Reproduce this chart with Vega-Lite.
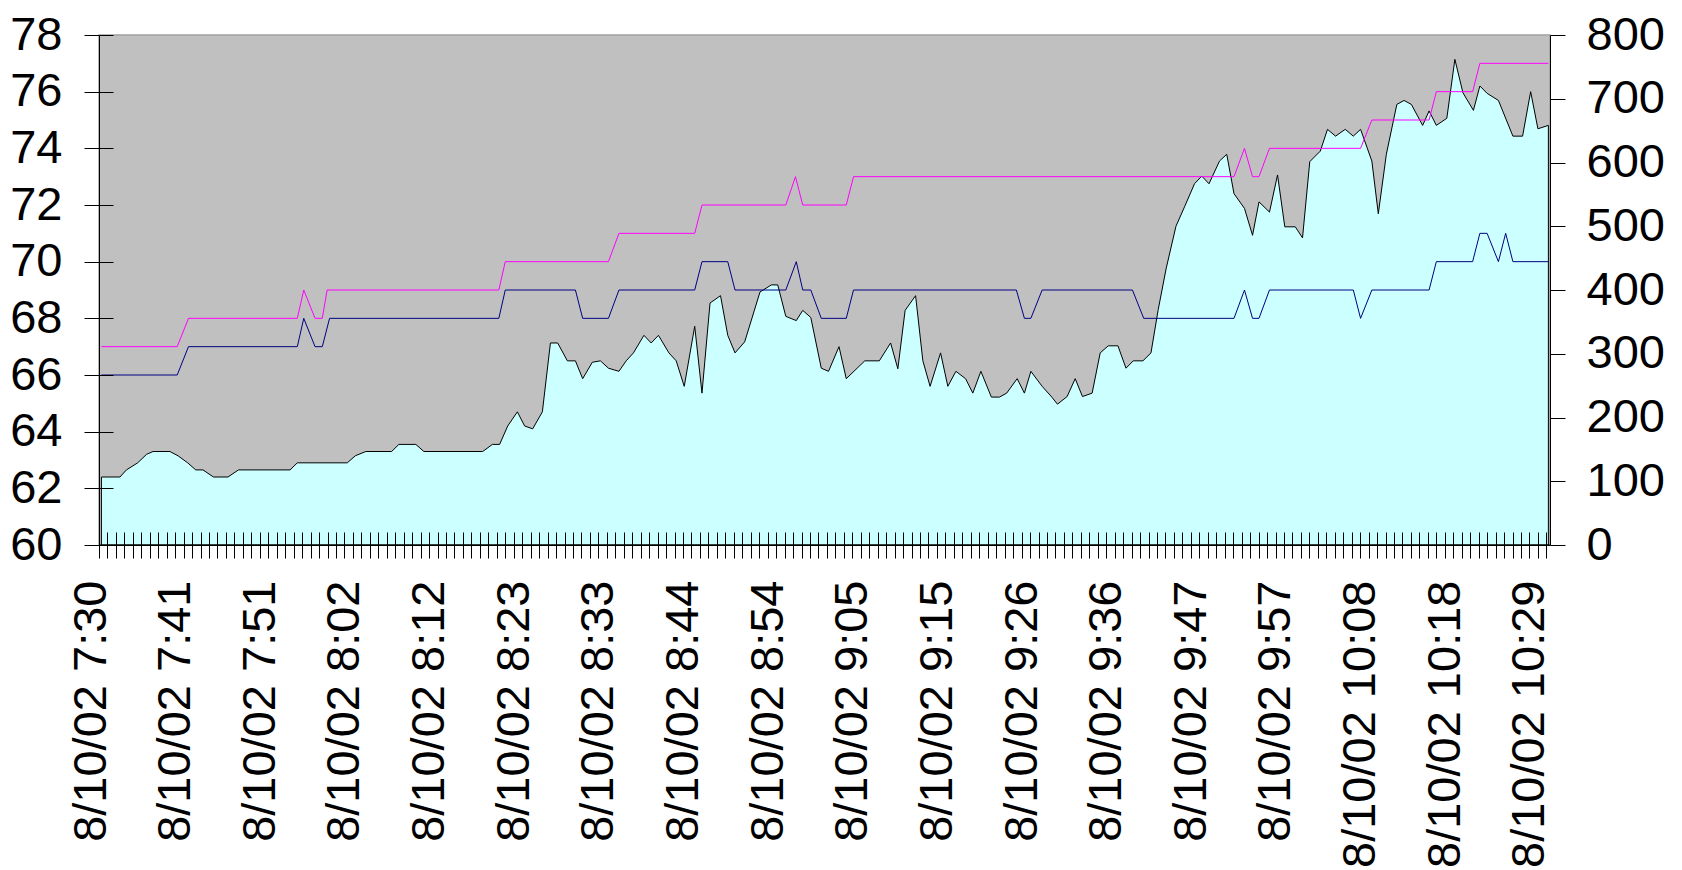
{
  "$schema": "https://vega.github.io/schema/vega-lite/v6.json",
  "width": 1451,
  "height": 510,
  "autosize": "none",
  "padding": {"left": 99, "top": 35, "right": 132, "bottom": 325},
  "background": "white",
  "config": {
    "view": {"fill": "#C0C0C0", "stroke": "#A0A0A0", "strokeWidth": 1.5},
    "font": "Liberation Sans",
    "axis": {"labelFont": "Liberation Sans", "labelColor": "black", "tickColor": "black", "domainColor": "black", "grid": false, "title": null, "labelLimit": 0}
  },
  "datasets": {
    "temp": [
      {"min": 0.3, "value": 62.4}, {"min": 2.6, "value": 62.4}, {"min": 3.4, "value": 62.65}, {"min": 4.8, "value": 62.9},
      {"min": 5.9, "value": 63.2}, {"min": 6.7, "value": 63.3}, {"min": 8.8, "value": 63.3}, {"min": 9.8, "value": 63.15},
      {"min": 11.0, "value": 62.9}, {"min": 12.0, "value": 62.65}, {"min": 12.9, "value": 62.65}, {"min": 14.2, "value": 62.4},
      {"min": 16.0, "value": 62.4}, {"min": 17.3, "value": 62.65}, {"min": 23.7, "value": 62.65}, {"min": 24.6, "value": 62.9},
      {"min": 30.8, "value": 62.9}, {"min": 31.8, "value": 63.15}, {"min": 33.1, "value": 63.3}, {"min": 36.3, "value": 63.3},
      {"min": 37.2, "value": 63.55}, {"min": 39.3, "value": 63.55}, {"min": 40.3, "value": 63.3}, {"min": 47.6, "value": 63.3},
      {"min": 48.8, "value": 63.55}, {"min": 49.7, "value": 63.55}, {"min": 50.7, "value": 64.2}, {"min": 51.9, "value": 64.7},
      {"min": 52.8, "value": 64.2}, {"min": 53.8, "value": 64.1}, {"min": 55.0, "value": 64.7}, {"min": 56.0, "value": 67.13},
      {"min": 56.9, "value": 67.13}, {"min": 58.1, "value": 66.5}, {"min": 59.1, "value": 66.5}, {"min": 60.0, "value": 65.87},
      {"min": 61.2, "value": 66.45}, {"min": 62.2, "value": 66.5}, {"min": 63.2, "value": 66.24}, {"min": 64.5, "value": 66.13},
      {"min": 65.4, "value": 66.5}, {"min": 66.3, "value": 66.78}, {"min": 67.6, "value": 67.4}, {"min": 68.5, "value": 67.13},
      {"min": 69.4, "value": 67.4}, {"min": 70.7, "value": 66.78}, {"min": 71.6, "value": 66.5}, {"min": 72.6, "value": 65.6},
      {"min": 73.9, "value": 67.72}, {"min": 74.8, "value": 65.36}, {"min": 75.8, "value": 68.54}, {"min": 77.1, "value": 68.8},
      {"min": 78.0, "value": 67.4}, {"min": 78.9, "value": 66.78}, {"min": 80.1, "value": 67.17}, {"min": 82.0, "value": 68.93},
      {"min": 83.4, "value": 69.18}, {"min": 84.2, "value": 69.18}, {"min": 85.2, "value": 68.07}, {"min": 86.5, "value": 67.92},
      {"min": 87.3, "value": 68.28}, {"min": 88.3, "value": 68.03}, {"min": 89.6, "value": 66.24}, {"min": 90.5, "value": 66.13},
      {"min": 91.8, "value": 67.0}, {"min": 92.7, "value": 65.87}, {"min": 95.0, "value": 66.5}, {"min": 96.8, "value": 66.5},
      {"min": 98.2, "value": 67.13}, {"min": 99.1, "value": 66.22}, {"min": 100.0, "value": 68.28}, {"min": 101.3, "value": 68.8},
      {"min": 102.2, "value": 66.5}, {"min": 103.1, "value": 65.6}, {"min": 104.4, "value": 66.78}, {"min": 105.3, "value": 65.6},
      {"min": 106.3, "value": 66.13}, {"min": 107.5, "value": 65.87}, {"min": 108.4, "value": 65.36}, {"min": 109.4, "value": 66.13},
      {"min": 110.7, "value": 65.22}, {"min": 111.7, "value": 65.22}, {"min": 112.6, "value": 65.36}, {"min": 113.9, "value": 65.87},
      {"min": 114.8, "value": 65.36}, {"min": 115.6, "value": 66.13}, {"min": 117.0, "value": 65.6}, {"min": 118.2, "value": 65.22},
      {"min": 118.9, "value": 64.97}, {"min": 120.1, "value": 65.24}, {"min": 121.1, "value": 65.87}, {"min": 122.0, "value": 65.24},
      {"min": 123.2, "value": 65.36}, {"min": 124.2, "value": 66.78}, {"min": 125.2, "value": 67.03}, {"min": 126.4, "value": 67.03},
      {"min": 127.4, "value": 66.24}, {"min": 128.3, "value": 66.5}, {"min": 129.5, "value": 66.5}, {"min": 130.5, "value": 66.78},
      {"min": 131.4, "value": 68.31}, {"min": 132.4, "value": 69.78}, {"min": 133.6, "value": 71.25}, {"min": 134.7, "value": 71.96},
      {"min": 135.9, "value": 72.75}, {"min": 136.8, "value": 73.02}, {"min": 137.7, "value": 72.75}, {"min": 139.0, "value": 73.55},
      {"min": 139.9, "value": 73.79}, {"min": 140.8, "value": 72.4}, {"min": 142.1, "value": 71.88}, {"min": 143.1, "value": 70.93},
      {"min": 143.9, "value": 72.11}, {"min": 145.2, "value": 71.75}, {"min": 146.2, "value": 73.06}, {"min": 147.1, "value": 71.23},
      {"min": 148.4, "value": 71.23}, {"min": 149.3, "value": 70.84}, {"min": 150.2, "value": 73.53}, {"min": 151.5, "value": 73.9},
      {"min": 152.4, "value": 74.67}, {"min": 153.4, "value": 74.43}, {"min": 154.6, "value": 74.67}, {"min": 155.6, "value": 74.43},
      {"min": 156.5, "value": 74.67}, {"min": 157.9, "value": 73.55}, {"min": 158.7, "value": 71.69}, {"min": 159.7, "value": 73.79},
      {"min": 161.0, "value": 75.55}, {"min": 161.9, "value": 75.69}, {"min": 162.8, "value": 75.55}, {"min": 164.2, "value": 74.81},
      {"min": 165.0, "value": 75.32}, {"min": 165.9, "value": 74.81}, {"min": 167.2, "value": 75.06}, {"min": 168.2, "value": 77.14},
      {"min": 169.2, "value": 75.96}, {"min": 170.5, "value": 75.34}, {"min": 171.3, "value": 76.2}, {"min": 172.2, "value": 75.94},
      {"min": 173.6, "value": 75.69}, {"min": 175.4, "value": 74.43}, {"min": 176.6, "value": 74.43}, {"min": 177.6, "value": 76.0},
      {"min": 178.5, "value": 74.69}, {"min": 179.8, "value": 74.81}
    ],
    "lines": [
      {"series": "high", "min": 0.3, "value": 67}, {"series": "high", "min": 9.7, "value": 67}, {"series": "high", "min": 11.1, "value": 68},
      {"series": "high", "min": 24.6, "value": 68}, {"series": "high", "min": 25.4, "value": 69}, {"series": "high", "min": 26.8, "value": 68},
      {"series": "high", "min": 27.7, "value": 68}, {"series": "high", "min": 28.3, "value": 69}, {"series": "high", "min": 49.6, "value": 69},
      {"series": "high", "min": 50.4, "value": 70}, {"series": "high", "min": 63.2, "value": 70}, {"series": "high", "min": 64.5, "value": 71},
      {"series": "high", "min": 73.9, "value": 71}, {"series": "high", "min": 74.8, "value": 72}, {"series": "high", "min": 85.2, "value": 72},
      {"series": "high", "min": 86.4, "value": 73}, {"series": "high", "min": 87.3, "value": 72}, {"series": "high", "min": 92.7, "value": 72},
      {"series": "high", "min": 93.6, "value": 73}, {"series": "high", "min": 140.8, "value": 73}, {"series": "high", "min": 142.1, "value": 74},
      {"series": "high", "min": 143.1, "value": 73}, {"series": "high", "min": 143.9, "value": 73}, {"series": "high", "min": 145.2, "value": 74},
      {"series": "high", "min": 156.5, "value": 74}, {"series": "high", "min": 157.9, "value": 75}, {"series": "high", "min": 165.0, "value": 75},
      {"series": "high", "min": 165.9, "value": 76}, {"series": "high", "min": 170.4, "value": 76}, {"series": "high", "min": 171.3, "value": 77},
      {"series": "high", "min": 179.8, "value": 77},
      {"series": "low", "min": 0.3, "value": 66}, {"series": "low", "min": 9.7, "value": 66}, {"series": "low", "min": 11.1, "value": 67},
      {"series": "low", "min": 24.6, "value": 67}, {"series": "low", "min": 25.4, "value": 68}, {"series": "low", "min": 26.8, "value": 67},
      {"series": "low", "min": 27.7, "value": 67}, {"series": "low", "min": 28.6, "value": 68}, {"series": "low", "min": 49.6, "value": 68},
      {"series": "low", "min": 50.4, "value": 69}, {"series": "low", "min": 59.1, "value": 69}, {"series": "low", "min": 60.0, "value": 68},
      {"series": "low", "min": 63.2, "value": 68}, {"series": "low", "min": 64.5, "value": 69}, {"series": "low", "min": 73.9, "value": 69},
      {"series": "low", "min": 74.8, "value": 70}, {"series": "low", "min": 78.0, "value": 70}, {"series": "low", "min": 78.9, "value": 69},
      {"series": "low", "min": 85.2, "value": 69}, {"series": "low", "min": 86.5, "value": 70}, {"series": "low", "min": 87.3, "value": 69},
      {"series": "low", "min": 88.3, "value": 69}, {"series": "low", "min": 89.6, "value": 68}, {"series": "low", "min": 92.7, "value": 68},
      {"series": "low", "min": 93.6, "value": 69}, {"series": "low", "min": 113.8, "value": 69}, {"series": "low", "min": 114.8, "value": 68},
      {"series": "low", "min": 115.6, "value": 68}, {"series": "low", "min": 117.0, "value": 69}, {"series": "low", "min": 128.2, "value": 69},
      {"series": "low", "min": 129.6, "value": 68}, {"series": "low", "min": 140.8, "value": 68}, {"series": "low", "min": 142.1, "value": 69},
      {"series": "low", "min": 143.1, "value": 68}, {"series": "low", "min": 143.9, "value": 68}, {"series": "low", "min": 145.2, "value": 69},
      {"series": "low", "min": 155.6, "value": 69}, {"series": "low", "min": 156.5, "value": 68}, {"series": "low", "min": 157.9, "value": 69},
      {"series": "low", "min": 165.0, "value": 69}, {"series": "low", "min": 165.9, "value": 70}, {"series": "low", "min": 170.4, "value": 70},
      {"series": "low", "min": 171.3, "value": 71}, {"series": "low", "min": 172.2, "value": 71}, {"series": "low", "min": 173.6, "value": 70},
      {"series": "low", "min": 174.5, "value": 71}, {"series": "low", "min": 175.4, "value": 70}, {"series": "low", "min": 179.8, "value": 70}
    ]
  },
  "layer": [
    {
      "layer": [
        {
          "data": {"name": "temp"},
          "mark": {"type": "area", "fill": "#CCFFFF", "fillOpacity": 1, "stroke": "black", "strokeWidth": 1},
          "encoding": {
            "x": {
              "field": "min", "type": "quantitative",
              "scale": {"domain": [0, 180], "nice": false, "zero": false},
              "axis": {
                "orient": "bottom",
                "values": [0,1.05,2.1,3.15,4.2,5.25,6.3,7.35,8.4,9.45,10.5,11.55,12.6,13.65,14.7,15.75,16.8,17.85,18.9,19.95,21,22.05,23.1,24.15,25.2,26.25,27.3,28.35,29.4,30.45,31.5,32.55,33.6,34.65,35.7,36.75,37.8,38.85,39.9,40.95,42,43.05,44.1,45.15,46.2,47.25,48.3,49.35,50.4,51.45,52.5,53.55,54.6,55.65,56.7,57.75,58.8,59.85,60.9,61.95,63,64.05,65.1,66.15,67.2,68.25,69.3,70.35,71.4,72.45,73.5,74.55,75.6,76.65,77.7,78.75,79.8,80.85,81.9,82.95,84,85.05,86.1,87.15,88.2,89.25,90.3,91.35,92.4,93.45,94.5,95.55,96.6,97.65,98.7,99.75,100.8,101.85,102.9,103.95,105,106.05,107.1,108.15,109.2,110.25,111.3,112.35,113.4,114.45,115.5,116.55,117.6,118.65,119.7,120.75,121.8,122.85,123.9,124.95,126,127.05,128.1,129.15,130.2,131.25,132.3,133.35,134.4,135.45,136.5,137.55,138.6,139.65,140.7,141.75,142.8,143.85,144.9,145.95,147,148.05,149.1,150.15,151.2,152.25,153.3,154.35,155.4,156.45,157.5,158.55,159.6,160.65,161.7,162.75,163.8,164.85,165.9,166.95,168,169.05,170.1,171.15,172.2,173.25,174.3,175.35,176.4,177.45,178.5,179.55],
                "labelExpr": "round(datum.value / 1.05) % 10 == 0 ? timeFormat(datetime(2002, 7, 10, 7, 30, 0, datum.value * 60000 + 30000), '%-m/%d/%y %-H:%M') : ''",
                "labelAngle": 270, "labelFontSize": 47, "labelPadding": 22, "labelOffset": -8,
                "labelOverlap": false, "labelFlush": false, "labelBound": false, "labelLimit": 0,
                "tickSize": 13, "tickWidth": 1, "domainWidth": 1, "zindex": 1
              }
            },
            "y": {
              "field": "value", "type": "quantitative",
              "scale": {"domain": [60, 78], "nice": false, "zero": false},
              "axis": {
                "orient": "left", "values": [60,62,64,66,68,70,72,74,76,78],
                "labelFontSize": 47, "labelPadding": 22, "tickSize": 15, "tickWidth": 1, "domainWidth": 1, "zindex": 1,
                "labelOverlap": false, "labelFlush": false, "labelBound": false
              }
            },
            "y2": {"datum": 60}
          }
        },
        {
          "data": {"name": "lines"},
          "mark": {"type": "line", "strokeWidth": 1},
          "encoding": {
            "x": {
              "field": "min", "type": "quantitative",
              "scale": {"domain": [0, 180], "nice": false, "zero": false},
              "axis": {
                "orient": "bottom",
                "values": [0,1.05,2.1,3.15,4.2,5.25,6.3,7.35,8.4,9.45,10.5,11.55,12.6,13.65,14.7,15.75,16.8,17.85,18.9,19.95,21,22.05,23.1,24.15,25.2,26.25,27.3,28.35,29.4,30.45,31.5,32.55,33.6,34.65,35.7,36.75,37.8,38.85,39.9,40.95,42,43.05,44.1,45.15,46.2,47.25,48.3,49.35,50.4,51.45,52.5,53.55,54.6,55.65,56.7,57.75,58.8,59.85,60.9,61.95,63,64.05,65.1,66.15,67.2,68.25,69.3,70.35,71.4,72.45,73.5,74.55,75.6,76.65,77.7,78.75,79.8,80.85,81.9,82.95,84,85.05,86.1,87.15,88.2,89.25,90.3,91.35,92.4,93.45,94.5,95.55,96.6,97.65,98.7,99.75,100.8,101.85,102.9,103.95,105,106.05,107.1,108.15,109.2,110.25,111.3,112.35,113.4,114.45,115.5,116.55,117.6,118.65,119.7,120.75,121.8,122.85,123.9,124.95,126,127.05,128.1,129.15,130.2,131.25,132.3,133.35,134.4,135.45,136.5,137.55,138.6,139.65,140.7,141.75,142.8,143.85,144.9,145.95,147,148.05,149.1,150.15,151.2,152.25,153.3,154.35,155.4,156.45,157.5,158.55,159.6,160.65,161.7,162.75,163.8,164.85,165.9,166.95,168,169.05,170.1,171.15,172.2,173.25,174.3,175.35,176.4,177.45,178.5,179.55],
                "labels": false, "domain": false, "tickSize": -13, "tickWidth": 1, "zindex": 1
              }
            },
            "y": {
              "field": "value", "type": "quantitative",
              "scale": {"domain": [60, 78], "nice": false, "zero": false},
              "axis": {
                "orient": "left", "values": [60,62,64,66,68,70,72,74,76,78],
                "labels": false, "domain": false, "tickSize": -14, "tickWidth": 1, "zindex": 1
              }
            },
            "color": {
              "field": "series", "type": "nominal",
              "scale": {"domain": ["high", "low"], "range": ["#FF00FF", "#000080"]},
              "legend": null
            }
          }
        }
      ],
      "resolve": {"axis": {"x": "independent", "y": "independent"}}
    },
    {
      "data": {"values": [{}]},
      "mark": {"type": "rule", "color": "black", "strokeWidth": 1},
      "encoding": {
        "y": {
          "datum": 0, "type": "quantitative",
          "scale": {"domain": [0, 800], "nice": false, "zero": false},
          "axis": {
            "orient": "right", "values": [0,100,200,300,400,500,600,700,800],
            "labelFontSize": 47, "labelPadding": 21, "tickSize": 15, "tickWidth": 1, "domainWidth": 1, "zindex": 1,
            "labelOverlap": false, "labelFlush": false, "labelBound": false
          }
        }
      }
    }
  ],
  "resolve": {"scale": {"y": "independent"}}
}
